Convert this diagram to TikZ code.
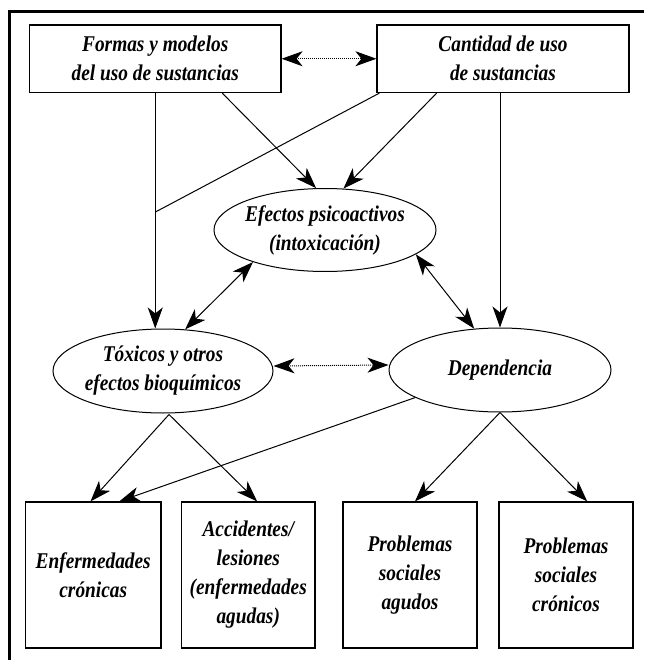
\documentclass[tikz,border=0pt]{standalone}
\usepackage{fontspec}
\setmainfont{Liberation Serif}[FakeStretch=0.86]
\usetikzlibrary{arrows.meta,shapes.geometric,calc}
\begin{document}
\begin{tikzpicture}[x=1pt,y=-1pt,
  txt/.style={font=\fontsize{22.5pt}{29pt}\selectfont\bfseries\itshape, align=center, inner sep=0pt},
  box/.style={txt, draw, line width=1.2pt, rectangle},
  oval/.style={txt, draw, line width=1pt, ellipse, inner xsep=-20pt, inner ysep=-5pt},
  conn/.style={line width=1pt},
  tipS/.tip={Stealth[length=21pt,width=15pt,inset=6pt]},
  arr/.style={conn, -tipS},
  darr/.style={conn, tipS-tipS},
  dotarr/.style={darr, dash pattern=on 1pt off 1pt}]
\useasboundingbox (0,0) rectangle (644,660);
\fill[white] (0,0) rectangle (644,660);
% frame
\draw[line width=3pt] (644,12) -- (9.5,12) -- (9.5,660);
% nodes
\node[box, minimum width=251.5pt, minimum height=67.5pt] (box1) at (155.25,58.75) {Formas y modelos\\del uso de sustancias};
\node[box, minimum width=252pt, minimum height=67.5pt] (box2) at (503,58.75) {Cantidad de uso\\de sustancias};
\node[oval, minimum width=222pt, minimum height=83pt] (efectos) at (325,230) {Efectos psicoactivos\\(intoxicación)};
\node[oval, minimum width=220pt, minimum height=84pt] (toxicos) at (163,371) {Tóxicos y otros\\efectos bioquímicos};
\node[oval, minimum width=222pt, minimum height=84pt] (dep) at (500,370) {Dependencia};
\node[box, minimum width=135.5pt, minimum height=146pt] (enf) at (93.25,575) {Enfermedades\\crónicas};
\node[box, minimum width=133.5pt, minimum height=146pt] (acc) at (248.25,575) {Accidentes/\\lesiones\\(enfermedades\\agudas)};
\node[box, minimum width=134pt, minimum height=146pt] (agu) at (410,575) {Problemas\\sociales\\agudos};
\node[box, minimum width=134pt, minimum height=146pt] (cro) at (566,575) {Problemas\\sociales\\crónicos};
% connectors
\draw[dotarr] (box1.east) -- (box2.west);
\draw[arr] (box1.south) -- (box1.south |- toxicos.north);
\coordinate (join) at ($(box1.south)+(0,119)$);
\draw[conn] ($(box2.south west)+(3,0)$) -- (join);
\draw[arr] ($(box1.south west)!0.765!(box1.south east)$) -- (efectos.102);
\draw[arr] ($(box2.south west)!0.238!(box2.south east)$) -- (efectos.66);
\draw[arr] (dep.north |- box2.south) -- (dep.north);
\draw[darr] (efectos.204) -- (toxicos.62);
\draw[darr] (efectos.345) -- (dep.122);
\draw[dotarr] ([yshift=5pt]toxicos.east) -- ([yshift=5pt]dep.west);
\coordinate (tapex) at ($(toxicos.south)+(6,1)$);
\draw[arr] (tapex) -- ($(enf.north west)!0.48!(enf.north east)$);
\draw[arr] (tapex) -- ($(acc.north west)!0.566!(acc.north east)$);
\draw[arr] (dep.198) -- ($(enf.north west)!0.69!(enf.north east)$);
\draw[arr] (dep.south) -- ($(agu.north west)!0.537!(agu.north east)$);
\draw[arr] (dep.south) -- ($(cro.north west)!0.657!(cro.north east)$);
\end{tikzpicture}
\end{document}
